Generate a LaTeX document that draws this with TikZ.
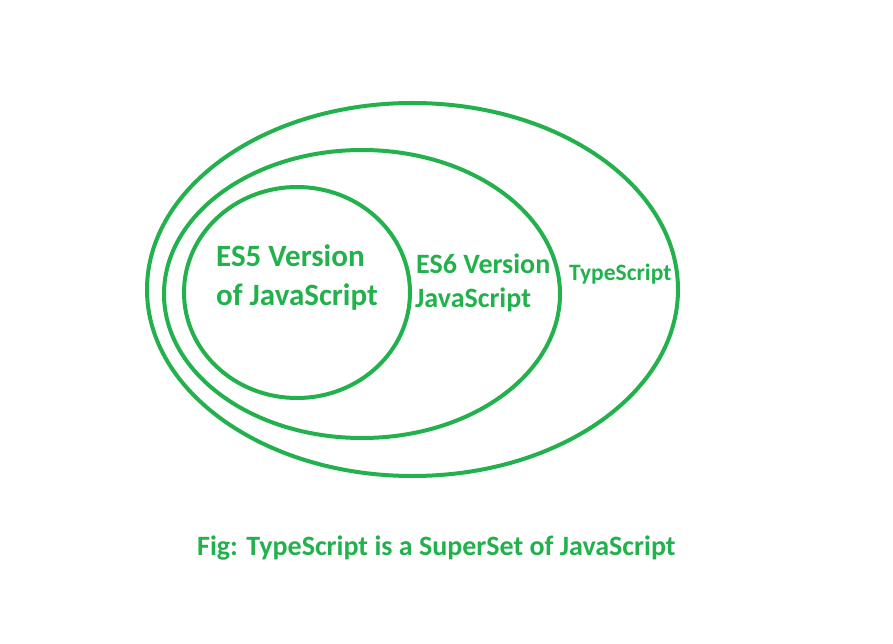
\documentclass[tikz,border=0pt]{standalone}
\usepackage{fontspec}
\setmainfont{Carlito}
\definecolor{pgreen}{RGB}{34,177,76}
\tikzset{
  ring/.style={draw=pgreen, line width=4bp},
  lbl/.style={text=pgreen, inner sep=0pt, anchor=base west},
}
\begin{document}
\begin{tikzpicture}[x=1bp,y=-1bp]
\useasboundingbox (0,0) rectangle (893,644);
\fill[white] (0,0) rectangle (893,644);
\draw[ring] (412.5,289.5) ellipse [x radius=265.5, y radius=186.5];
\draw[ring] (362,294) ellipse [x radius=198, y radius=144];
\draw[ring] (297,292.5) ellipse [x radius=113, y radius=105.5];
\node[lbl, font=\bfseries\fontsize{31bp}{36bp}\selectfont] (es5a) at (216,267) {ES5 Version};
\node[lbl, font=\bfseries\fontsize{31bp}{36bp}\selectfont] (es5b) at (216,305) {of JavaScript};
\node[lbl, font=\bfseries\fontsize{28bp}{32bp}\selectfont] (es6a) at (416,273) {ES6 Version};
\node[lbl, font=\bfseries\fontsize{28bp}{32bp}\selectfont] (es6b) at (415,307) {JavaScript};
\node[lbl, font=\bfseries\fontsize{23.5bp}{28bp}\selectfont] (ts) at (569,280) {TypeScript};
\node[lbl, font=\bfseries\fontsize{28bp}{32bp}\selectfont] (cap) at (197,555) {Fig: TypeScript is a SuperSet of JavaScript};
\end{tikzpicture}
\end{document}
